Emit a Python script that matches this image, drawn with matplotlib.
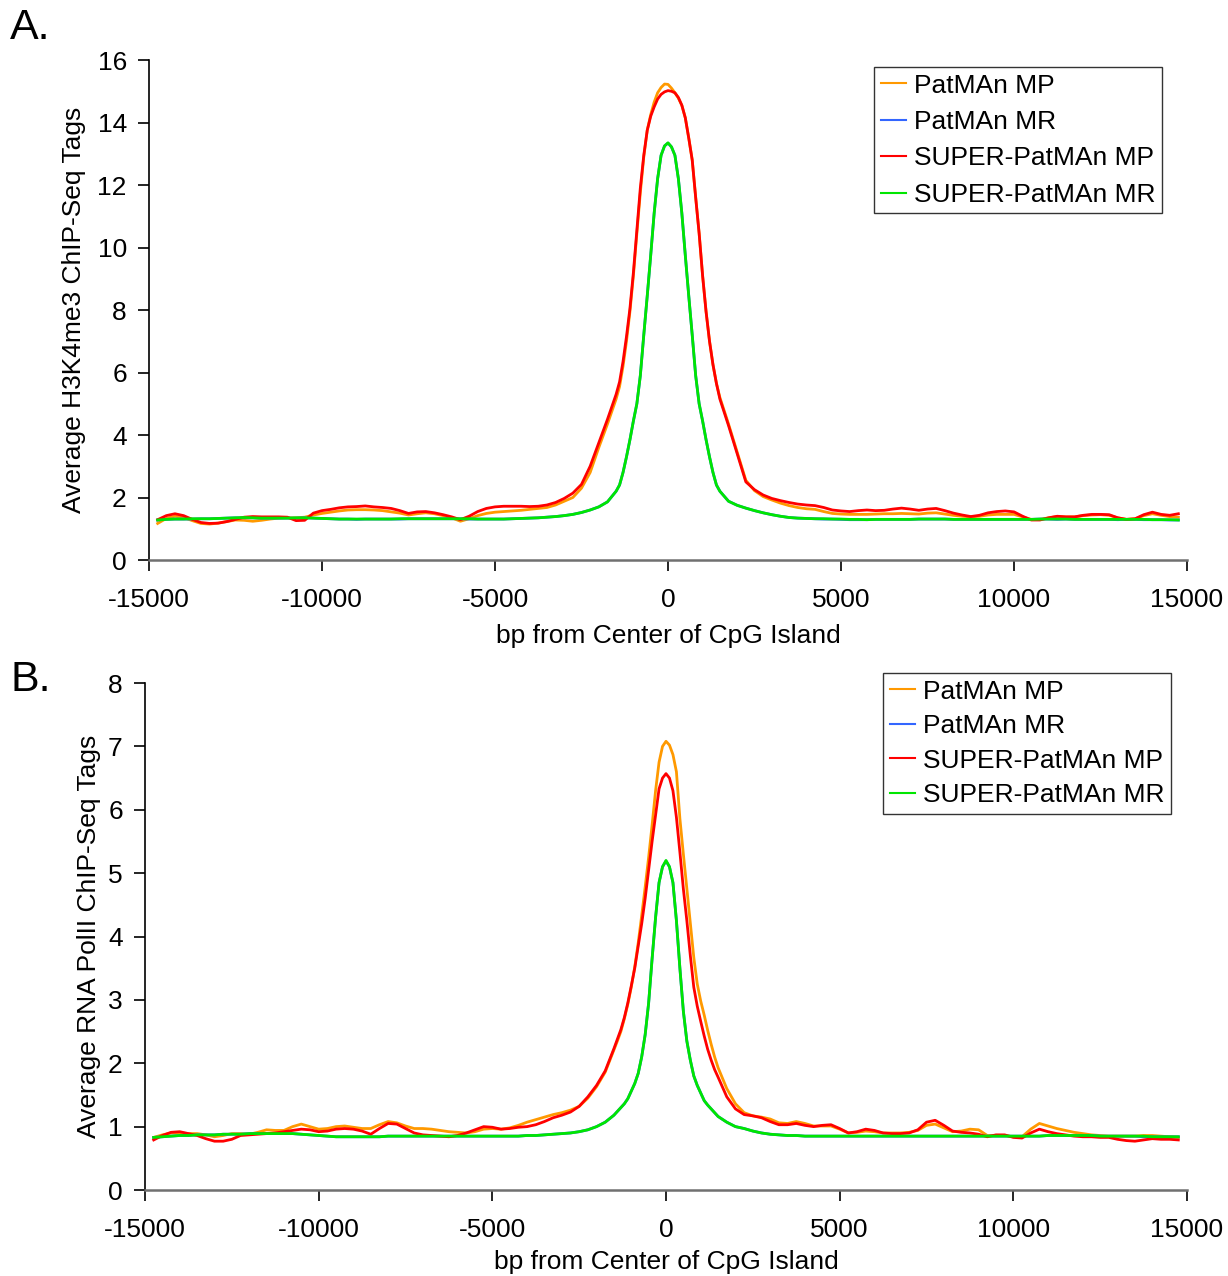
import matplotlib
matplotlib.use('Agg')
import matplotlib.pyplot as plt

plt.rcParams['font.family'] = ['Liberation Sans', 'DejaVu Sans']
plt.rcParams['axes.unicode_minus'] = False

# bp positions of the profile samples (coarse in the tails, fine around the peak)
bp = list(range(-14750, -1500, 250)) + list(range(-1500, 1501, 100)) + list(range(1750, 14751, 250))

labels = ['PatMAn MP', 'PatMAn MR', 'SUPER-PatMAn MP', 'SUPER-PatMAn MR']
colors = ['#FF9900', '#3366FF', '#FF0000', '#00E600']

# ---- A. H3K4me3 ----
patman_mp_a = [
    1.17, 1.33, 1.40, 1.36, 1.26, 1.17, 1.15, 1.18, 1.23, 1.28,
    1.27, 1.24, 1.27, 1.31, 1.34, 1.35, 1.35, 1.37, 1.44, 1.49,
    1.53, 1.57, 1.60, 1.61, 1.61, 1.60, 1.58, 1.54, 1.50, 1.44,
    1.48, 1.51, 1.48, 1.42, 1.35, 1.24, 1.32, 1.42, 1.49, 1.53,
    1.55, 1.57, 1.59, 1.62, 1.65, 1.68, 1.76, 1.88, 2.00, 2.30,
    2.80, 3.60, 4.35,
    5.15, 5.55, 6.20, 7.00, 7.95, 9.10, 10.45, 11.75, 12.90, 13.75,
    14.25, 14.65, 14.95, 15.12, 15.23, 15.22, 15.10, 14.95, 14.78, 14.55,
    14.15, 13.50, 12.80, 11.60, 10.45, 9.10, 7.95, 7.00, 6.25, 5.65, 5.20,
    4.35, 3.45, 2.55, 2.22, 2.03, 1.92, 1.82, 1.74, 1.68, 1.64,
    1.62, 1.55, 1.49, 1.47, 1.46, 1.46, 1.46, 1.47, 1.48, 1.48,
    1.49, 1.48, 1.47, 1.50, 1.51, 1.47, 1.43, 1.40, 1.38, 1.40,
    1.44, 1.46, 1.46, 1.46, 1.38, 1.30, 1.30, 1.35, 1.39, 1.38,
    1.38, 1.42, 1.44, 1.45, 1.43, 1.35, 1.30, 1.32, 1.42, 1.48,
    1.43, 1.39, 1.37]
patman_mr_a = [
    1.28, 1.30, 1.31, 1.31, 1.31, 1.32, 1.32, 1.33, 1.34, 1.35,
    1.35, 1.35, 1.34, 1.34, 1.34, 1.34, 1.34, 1.35, 1.34, 1.33,
    1.32, 1.31, 1.31, 1.30, 1.31, 1.31, 1.31, 1.31, 1.31, 1.32,
    1.32, 1.32, 1.32, 1.32, 1.32, 1.32, 1.31, 1.31, 1.31, 1.31,
    1.31, 1.32, 1.33, 1.34, 1.35, 1.37, 1.39, 1.42, 1.46, 1.52,
    1.60, 1.70, 1.86,
    2.20, 2.40, 2.80, 3.30, 3.85, 4.45, 5.00, 5.90, 7.20, 8.45,
    9.75, 11.10, 12.20, 12.95, 13.25, 13.34, 13.22, 12.95, 12.20, 11.10,
    9.75, 8.45, 7.20, 5.90, 5.00, 4.45, 3.85, 3.30, 2.80, 2.40, 2.20,
    1.88, 1.75, 1.66, 1.58, 1.51, 1.45, 1.40, 1.36, 1.34, 1.33,
    1.32, 1.31, 1.31, 1.30, 1.29, 1.29, 1.29, 1.30, 1.30, 1.30,
    1.30, 1.30, 1.31, 1.31, 1.31, 1.31, 1.30, 1.30, 1.30, 1.30,
    1.30, 1.30, 1.30, 1.30, 1.30, 1.30, 1.31, 1.31, 1.30, 1.31,
    1.30, 1.30, 1.30, 1.30, 1.30, 1.29, 1.30, 1.30, 1.29, 1.29,
    1.29, 1.28, 1.28]
super_mp_a = [
    1.29, 1.42, 1.48, 1.42, 1.30, 1.20, 1.17, 1.18, 1.23, 1.30,
    1.37, 1.39, 1.38, 1.38, 1.38, 1.37, 1.26, 1.27, 1.50, 1.58,
    1.62, 1.67, 1.70, 1.71, 1.73, 1.70, 1.68, 1.65, 1.58, 1.49,
    1.54, 1.55, 1.51, 1.45, 1.38, 1.29, 1.40, 1.55, 1.65, 1.70,
    1.72, 1.72, 1.72, 1.71, 1.72, 1.76, 1.84, 1.97, 2.14, 2.42,
    3.00, 3.75, 4.50,
    5.30, 5.70, 6.35, 7.15, 8.05, 9.20, 10.55, 11.90, 12.95, 13.75,
    14.20, 14.50, 14.75, 14.90, 14.98, 15.02, 15.00, 14.95, 14.80, 14.55,
    14.15, 13.50, 12.80, 11.60, 10.45, 9.10, 7.95, 7.00, 6.25, 5.65, 5.15,
    4.30, 3.40, 2.50, 2.25, 2.08, 1.97, 1.90, 1.84, 1.79, 1.76,
    1.74, 1.68, 1.60, 1.57, 1.55, 1.58, 1.60, 1.58, 1.59, 1.63,
    1.66, 1.63, 1.59, 1.63, 1.65, 1.58, 1.50, 1.44, 1.39, 1.43,
    1.51, 1.55, 1.57, 1.54, 1.40, 1.28, 1.28, 1.35, 1.40, 1.38,
    1.38, 1.43, 1.46, 1.46, 1.45, 1.35, 1.30, 1.32, 1.45, 1.53,
    1.46, 1.43, 1.48]
super_mr_a = [
    1.28, 1.30, 1.31, 1.31, 1.32, 1.32, 1.32, 1.33, 1.34, 1.35,
    1.36, 1.35, 1.34, 1.34, 1.34, 1.34, 1.35, 1.35, 1.34, 1.33,
    1.32, 1.31, 1.31, 1.31, 1.31, 1.31, 1.31, 1.31, 1.32, 1.32,
    1.32, 1.32, 1.32, 1.32, 1.32, 1.32, 1.32, 1.31, 1.31, 1.31,
    1.31, 1.32, 1.33, 1.34, 1.35, 1.37, 1.39, 1.42, 1.46, 1.52,
    1.60, 1.70, 1.86,
    2.20, 2.40, 2.80, 3.30, 3.85, 4.45, 5.00, 5.90, 7.20, 8.45,
    9.75, 11.10, 12.20, 12.95, 13.25, 13.35, 13.22, 12.95, 12.20, 11.10,
    9.75, 8.45, 7.20, 5.90, 5.00, 4.45, 3.85, 3.30, 2.80, 2.40, 2.20,
    1.88, 1.75, 1.66, 1.58, 1.51, 1.45, 1.40, 1.36, 1.34, 1.33,
    1.32, 1.32, 1.31, 1.31, 1.30, 1.30, 1.29, 1.30, 1.30, 1.30,
    1.30, 1.30, 1.31, 1.31, 1.31, 1.31, 1.30, 1.30, 1.30, 1.30,
    1.30, 1.30, 1.30, 1.30, 1.30, 1.30, 1.31, 1.31, 1.31, 1.31,
    1.30, 1.30, 1.30, 1.30, 1.30, 1.30, 1.30, 1.30, 1.30, 1.29,
    1.29, 1.29, 1.28]

# ---- B. RNA PolII ----
patman_mp_b = [
    0.83, 0.87, 0.90, 0.90, 0.89, 0.89, 0.87, 0.84, 0.86, 0.89,
    0.89, 0.88, 0.91, 0.95, 0.94, 0.94, 1.00, 1.04, 1.00, 0.96,
    0.97, 1.00, 1.01, 0.99, 0.97, 0.97, 1.03, 1.08, 1.06, 1.01,
    0.97, 0.97, 0.96, 0.94, 0.92, 0.91, 0.90, 0.92, 0.96, 0.97,
    0.96, 0.98, 1.02, 1.07, 1.11, 1.15, 1.19, 1.22, 1.26, 1.32,
    1.45, 1.63, 1.86,
    2.21, 2.35, 2.50, 2.70, 2.93, 3.20, 3.52, 3.90, 4.33, 4.78,
    5.25, 5.76, 6.30, 6.75, 7.00, 7.08, 7.02, 6.87, 6.60, 5.86,
    5.30, 4.76, 4.22, 3.67, 3.25, 2.98, 2.76, 2.52, 2.30, 2.10, 1.93,
    1.60, 1.36, 1.22, 1.17, 1.15, 1.12, 1.06, 1.05, 1.08, 1.05,
    1.01, 1.01, 1.01, 0.96, 0.90, 0.91, 0.93, 0.92, 0.90, 0.90,
    0.90, 0.91, 0.94, 1.02, 1.04, 0.98, 0.92, 0.93, 0.96, 0.95,
    0.86, 0.86, 0.86, 0.84, 0.84, 0.96, 1.05, 1.01, 0.97, 0.94,
    0.91, 0.89, 0.87, 0.86, 0.85, 0.85, 0.85, 0.85, 0.86, 0.86,
    0.85, 0.84, 0.83]
patman_mr_b = [
    0.83, 0.84, 0.85, 0.86, 0.86, 0.87, 0.87, 0.87, 0.88, 0.88,
    0.88, 0.89, 0.89, 0.89, 0.89, 0.89, 0.89, 0.88, 0.87, 0.86,
    0.85, 0.84, 0.84, 0.84, 0.84, 0.84, 0.84, 0.85, 0.85, 0.85,
    0.85, 0.85, 0.85, 0.85, 0.85, 0.85, 0.85, 0.85, 0.85, 0.85,
    0.85, 0.85, 0.85, 0.86, 0.86, 0.87, 0.88, 0.89, 0.90, 0.92,
    0.95, 1.00, 1.07,
    1.18, 1.24, 1.30, 1.36, 1.44, 1.56, 1.68, 1.84, 2.10, 2.45,
    2.95, 3.65, 4.30, 4.85, 5.10, 5.19, 5.10, 4.85, 4.25, 3.50,
    2.82, 2.35, 2.05, 1.80, 1.65, 1.53, 1.41, 1.34, 1.28, 1.22, 1.16,
    1.07, 1.00, 0.97, 0.93, 0.90, 0.88, 0.87, 0.86, 0.86, 0.85,
    0.85, 0.85, 0.85, 0.85, 0.85, 0.85, 0.85, 0.85, 0.85, 0.85,
    0.85, 0.85, 0.85, 0.85, 0.85, 0.85, 0.85, 0.85, 0.85, 0.85,
    0.85, 0.85, 0.85, 0.85, 0.85, 0.85, 0.85, 0.86, 0.86, 0.86,
    0.86, 0.86, 0.86, 0.85, 0.85, 0.85, 0.85, 0.85, 0.84, 0.84,
    0.84, 0.84, 0.84]
super_mp_b = [
    0.79, 0.86, 0.91, 0.92, 0.89, 0.86, 0.81, 0.77, 0.77, 0.80,
    0.86, 0.87, 0.88, 0.89, 0.90, 0.92, 0.94, 0.96, 0.95, 0.92,
    0.93, 0.96, 0.97, 0.96, 0.93, 0.88, 0.97, 1.05, 1.04, 0.97,
    0.90, 0.87, 0.86, 0.85, 0.84, 0.86, 0.90, 0.95, 1.00, 0.99,
    0.96, 0.97, 0.99, 1.00, 1.03, 1.08, 1.14, 1.18, 1.23, 1.32,
    1.47, 1.65, 1.88,
    2.23, 2.38, 2.53, 2.72, 2.95, 3.22, 3.50, 3.85, 4.20, 4.60,
    5.05, 5.50, 5.92, 6.33, 6.50, 6.57, 6.50, 6.30, 5.88, 5.33,
    4.75, 4.25, 3.70, 3.20, 2.90, 2.66, 2.43, 2.22, 2.05, 1.90, 1.78,
    1.47, 1.28, 1.19, 1.17, 1.14, 1.08, 1.03, 1.03, 1.05, 1.02,
    1.00, 1.02, 1.03, 0.97, 0.90, 0.92, 0.96, 0.94, 0.90, 0.89,
    0.89, 0.90, 0.95, 1.07, 1.10, 1.02, 0.93, 0.91, 0.90, 0.88,
    0.84, 0.87, 0.87, 0.83, 0.82, 0.90, 0.96, 0.92, 0.89, 0.87,
    0.85, 0.84, 0.84, 0.83, 0.83, 0.80, 0.78, 0.77, 0.79, 0.81,
    0.80, 0.80, 0.79]
super_mr_b = [
    0.83, 0.84, 0.85, 0.86, 0.86, 0.87, 0.87, 0.87, 0.88, 0.88,
    0.88, 0.89, 0.89, 0.89, 0.89, 0.89, 0.89, 0.88, 0.87, 0.86,
    0.85, 0.84, 0.84, 0.84, 0.84, 0.84, 0.84, 0.85, 0.85, 0.85,
    0.85, 0.85, 0.85, 0.85, 0.85, 0.85, 0.85, 0.85, 0.85, 0.85,
    0.85, 0.85, 0.85, 0.86, 0.86, 0.87, 0.88, 0.89, 0.90, 0.92,
    0.95, 1.00, 1.07,
    1.18, 1.24, 1.30, 1.36, 1.44, 1.56, 1.68, 1.84, 2.10, 2.45,
    2.95, 3.65, 4.30, 4.85, 5.10, 5.20, 5.10, 4.85, 4.25, 3.50,
    2.82, 2.35, 2.05, 1.80, 1.65, 1.53, 1.41, 1.34, 1.28, 1.22, 1.16,
    1.07, 1.00, 0.97, 0.93, 0.90, 0.88, 0.87, 0.86, 0.86, 0.85,
    0.85, 0.85, 0.85, 0.85, 0.85, 0.85, 0.85, 0.85, 0.85, 0.85,
    0.85, 0.85, 0.85, 0.85, 0.85, 0.85, 0.85, 0.85, 0.85, 0.85,
    0.85, 0.85, 0.85, 0.85, 0.85, 0.85, 0.85, 0.86, 0.86, 0.86,
    0.86, 0.86, 0.86, 0.85, 0.85, 0.85, 0.85, 0.85, 0.85, 0.84,
    0.84, 0.84, 0.84]

xticks = [-15000, -10000, -5000, 0, 5000, 10000, 15000]

fig = plt.figure(figsize=(12.28, 12.76), dpi=100)
ax_a = fig.add_axes([149 / 1228, 1 - 560 / 1276, 1038 / 1228, 500 / 1276])
ax_b = fig.add_axes([145 / 1228, 1 - 1190 / 1276, 1042 / 1228, 507 / 1276])


def draw(ax, series, ymax, ylabel, legend_at, spacing, xpad, ypad):
    for ys, lab, col in zip(series, labels, colors):
        ax.plot(bp, ys, color=col, lw=2.0, label=lab)
    ax.set_xlim(-15000, 15000)
    ax.set_ylim(0, ymax)
    ax.set_xticks(xticks)
    ax.set_yticks(range(0, ymax + 1, 2 if ymax > 8 else 1))
    for s in ('top', 'right'):
        ax.spines[s].set_visible(False)
    ax.spines['left'].set_linewidth(1.2)
    ax.spines['bottom'].set_color('#707070')
    ax.spines['bottom'].set_linewidth(1.8)
    ax.tick_params(axis='both', direction='out', length=8, width=1.2,
                   labelsize=19, color='black')
    ax.tick_params(axis='x', pad=12)
    ax.tick_params(axis='y', pad=8)
    ax.set_xlabel('bp from Center of CpG Island', fontsize=19, labelpad=xpad)
    ax.set_ylabel(ylabel, fontsize=19, labelpad=ypad)
    leg = ax.legend(loc='upper right', bbox_to_anchor=legend_at,
                    bbox_transform=fig.transFigure, borderaxespad=0,
                    fontsize=19, frameon=True, fancybox=False,
                    handlelength=0.95, handletextpad=0.3, labelspacing=spacing,
                    borderpad=0.25)
    leg.get_frame().set_edgecolor('black')
    leg.get_frame().set_linewidth(1.0)
    for line in leg.get_lines():
        line.set_linewidth(1.5)


draw(ax_a, [patman_mp_a, patman_mr_a, super_mp_a, super_mr_a], 16,
     'Average H3K4me3 ChIP-Seq Tags', (1162 / 1228, 1 - 67 / 1276), 0.47, 9, 8)
draw(ax_b, [patman_mp_b, patman_mr_b, super_mp_b, super_mr_b], 8,
     'Average RNA PolII ChIP-Seq Tags', (1171 / 1228, 1 - 673 / 1276), 0.4, 6, 5)

fig.text(10 / 1228, 1 - 8 / 1276, 'A.', fontsize=31, va='top', ha='left')
fig.text(10 / 1228, 1 - 660 / 1276, 'B.', fontsize=31, va='top', ha='left')

fig.savefig('out.png', dpi=100)
